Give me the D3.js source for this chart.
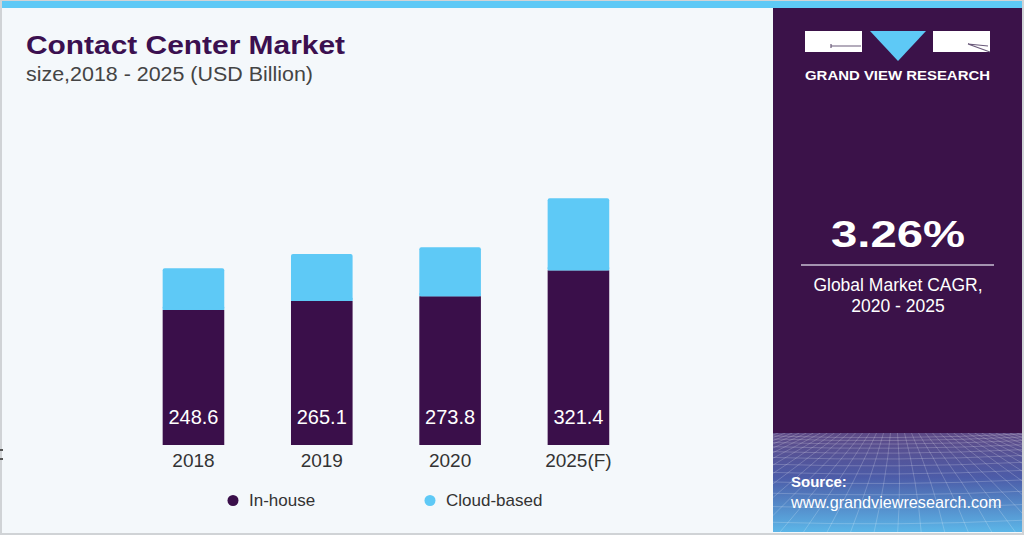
<!DOCTYPE html>
<html>
<head>
<meta charset="utf-8">
<script src="https://cdn.jsdelivr.net/npm/d3@7"></script>
<style>
  html, body { margin: 0; padding: 0; background: #ffffff; }
  svg { display: block; }
</style>
</head>
<body>
<svg id="chart" width="1024" height="535"></svg>
<script>
// ---- data ----
const categories = ["2018", "2019", "2020", "2025(F)"];
const inHouse = [248.6, 265.1, 273.8, 321.4];
const cloudBased = [76.7, 86.5, 90.2, 132.5];
const seriesNames = ["In-house", "Cloud-based"];
const seriesColors = ["#3a0f4a", "#5ec9f6"];

const title = "Contact Center Market";
const subtitle = "size,2018 - 2025 (USD Billion)";
const cagrValue = "3.26%";
const cagrLabel = ["Global Market CAGR,", "2020 - 2025"];

const FONT = "Liberation Sans, Arial, sans-serif";
const svg = d3.select("#chart");
const W = 1024, H = 535;

// background & frame
svg.append("rect").attr("x", 0).attr("y", 0).attr("width", W).attr("height", H).attr("fill", "#d0d3d6");
svg.append("rect").attr("x", 2).attr("y", 1).attr("width", W - 4).attr("height", H - 3).attr("fill", "#f4f8fb");
svg.append("rect").attr("x", 2).attr("y", 1).attr("width", W - 4).attr("height", 7).attr("fill", "#5ec9f6");

// right panel
const px = 773, pw = 249;
svg.append("rect").attr("x", px).attr("y", 8).attr("width", pw).attr("height", 425).attr("fill", "#3b1249");

const defs = svg.append("defs");
const grad = defs.append("linearGradient").attr("id", "bgrad").attr("x1", 0).attr("y1", 0).attr("x2", 0).attr("y2", 1);
grad.append("stop").attr("offset", "0%").attr("stop-color", "#5e4a86");
grad.append("stop").attr("offset", "45%").attr("stop-color", "#4c5ca8");
grad.append("stop").attr("offset", "100%").attr("stop-color", "#5cb6e8");
svg.append("rect").attr("x", px).attr("y", 433).attr("width", pw).attr("height", 99).attr("fill", "url(#bgrad)");
const clip = defs.append("clipPath").attr("id", "gclip");
clip.append("rect").attr("x", px).attr("y", 433).attr("width", pw).attr("height", 99);
const grid = svg.append("g").attr("clip-path", "url(#gclip)").attr("stroke", "#ffffff").attr("stroke-opacity", 0.25).attr("stroke-width", 0.8).attr("fill", "none");
let gy = 436, gstep = 3;
while (gy < 540) {
  grid.append("path").attr("d", `M${px},${gy} Q${px + pw / 2},${gy + 4} ${px + pw},${gy - 2}`);
  gy += gstep; gstep *= 1.18;
}
d3.range(-20, 21).forEach(i => {
  const topX = px + pw / 2 + i * 7;
  const botX = px + pw / 2 + i * 24;
  grid.append("path").attr("d", `M${topX},433 Q${(topX + botX) / 2 + 4},480 ${botX},535`);
});

// logo
const logo = svg.append("g");
logo.append("rect").attr("x", 805).attr("y", 31).attr("width", 57).attr("height", 21).attr("fill", "#ffffff");
logo.append("path").attr("d", "M870,31 L926,31 L898,61 Z").attr("fill", "#5ec9f6");
logo.append("rect").attr("x", 933).attr("y", 31).attr("width", 57).attr("height", 21).attr("fill", "#ffffff");
logo.append("path").attr("d", "M831,44 L831,48 M831,46 L861,46").attr("stroke", "#6a5a7a").attr("stroke-width", 1.2);
logo.append("path").attr("d", "M968,44 L990,52 M968,44 L988,46").attr("stroke", "#6a5a7a").attr("stroke-width", 1.2);
logo.append("text").attr("x", 805).attr("y", 80)
  .attr("font-family", FONT).attr("font-weight", "bold").attr("font-size", 13.5)
  .attr("textLength", 185).attr("lengthAdjust", "spacingAndGlyphs")
  .attr("fill", "#ffffff").text("GRAND VIEW RESEARCH");

// CAGR
svg.append("text").attr("x", 831).attr("y", 247)
  .attr("font-family", FONT).attr("font-weight", "bold").attr("font-size", 37)
  .attr("textLength", 134).attr("lengthAdjust", "spacingAndGlyphs")
  .attr("fill", "#ffffff").text(cagrValue);
svg.append("line").attr("x1", 801).attr("x2", 994).attr("y1", 265).attr("y2", 265).attr("stroke", "#c9bfd3").attr("stroke-width", 1.5);
cagrLabel.forEach((t, i) => {
  svg.append("text").attr("x", 898).attr("y", 291 + i * 21).attr("text-anchor", "middle")
    .attr("font-family", FONT).attr("font-size", 17.5)
    .attr("fill", "#ffffff").text(t);
});

// source
svg.append("text").attr("x", 791).attr("y", 487)
  .attr("font-family", FONT).attr("font-weight", "bold").attr("font-size", 15)
  .attr("fill", "#ffffff").text("Source:");
svg.append("text").attr("x", 791).attr("y", 508)
  .attr("font-family", FONT).attr("font-size", 16.2)
  .attr("fill", "#ffffff").text("www.grandviewresearch.com");

// titles
svg.append("text").attr("x", 26).attr("y", 54)
  .attr("font-family", FONT).attr("font-weight", 900).attr("font-size", 26)
  .attr("fill", "#3b1050").attr("textLength", 319).attr("lengthAdjust", "spacingAndGlyphs").text(title);
svg.append("text").attr("x", 26).attr("y", 81)
  .attr("font-family", FONT).attr("font-size", 20)
  .attr("textLength", 287).attr("lengthAdjust", "spacingAndGlyphs")
  .attr("fill", "#444444").text(subtitle);

// scales
const x = d3.scaleBand().domain(categories).range([129.3, 642.6]).paddingInner(0.52).paddingOuter(0.26);
const y = d3.scaleLinear().domain([0, 500]).range([445, 445 - 500 * 0.5435]);

const stackData = categories.map((c, i) => ({ cat: c, inHouse: inHouse[i], cloud: cloudBased[i] }));
const stacked = d3.stack().keys(["inHouse", "cloud"])(stackData);

const barsG = svg.append("g");
stacked.forEach((layer, li) => {
  barsG.selectAll(null).data(layer).enter().append("rect")
    .attr("x", d => x(d.data.cat))
    .attr("width", x.bandwidth())
    .attr("y", d => y(d[1]))
    .attr("height", d => y(d[0]) - y(d[1]))
    .attr("rx", li === 1 ? 2 : 0)
    .attr("fill", seriesColors[li]);
});
barsG.selectAll(null).data(stacked[1]).enter().append("rect")
  .attr("x", d => x(d.data.cat)).attr("width", x.bandwidth())
  .attr("y", d => y(d[0]) - 3).attr("height", 3).attr("fill", seriesColors[1]);

// value labels
svg.selectAll(null).data(stackData).enter().append("text")
  .attr("x", d => x(d.cat) + x.bandwidth() / 2)
  .attr("y", 423.5)
  .attr("text-anchor", "middle")
  .attr("font-family", FONT).attr("font-size", 20)
  .attr("fill", "#ffffff").text(d => d.inHouse.toFixed(1));

// x axis
const xAxis = svg.append("g").attr("transform", "translate(0,445)")
  .call(d3.axisBottom(x).tickSize(0).tickPadding(9));
xAxis.select(".domain").remove();
xAxis.selectAll("text").attr("font-family", FONT).attr("font-size", 19)
  .attr("fill", "#333333").attr("dy", "0.71em");

// legend
const legendX = [233, 430];
seriesNames.forEach((n, i) => {
  svg.append("circle").attr("cx", legendX[i]).attr("cy", 500.5).attr("r", 5.5).attr("fill", seriesColors[i]);
  svg.append("text").attr("x", legendX[i] + 16).attr("y", 506)
    .attr("font-family", FONT).attr("font-size", 17)
    .attr("fill", "#333333").text(n);
});

// tiny left-edge marks
svg.append("rect").attr("x", 0).attr("y", 449).attr("width", 3).attr("height", 2).attr("fill", "#555");
svg.append("rect").attr("x", 0).attr("y", 458).attr("width", 3).attr("height", 2).attr("fill", "#555");
</script>
</body>
</html>
